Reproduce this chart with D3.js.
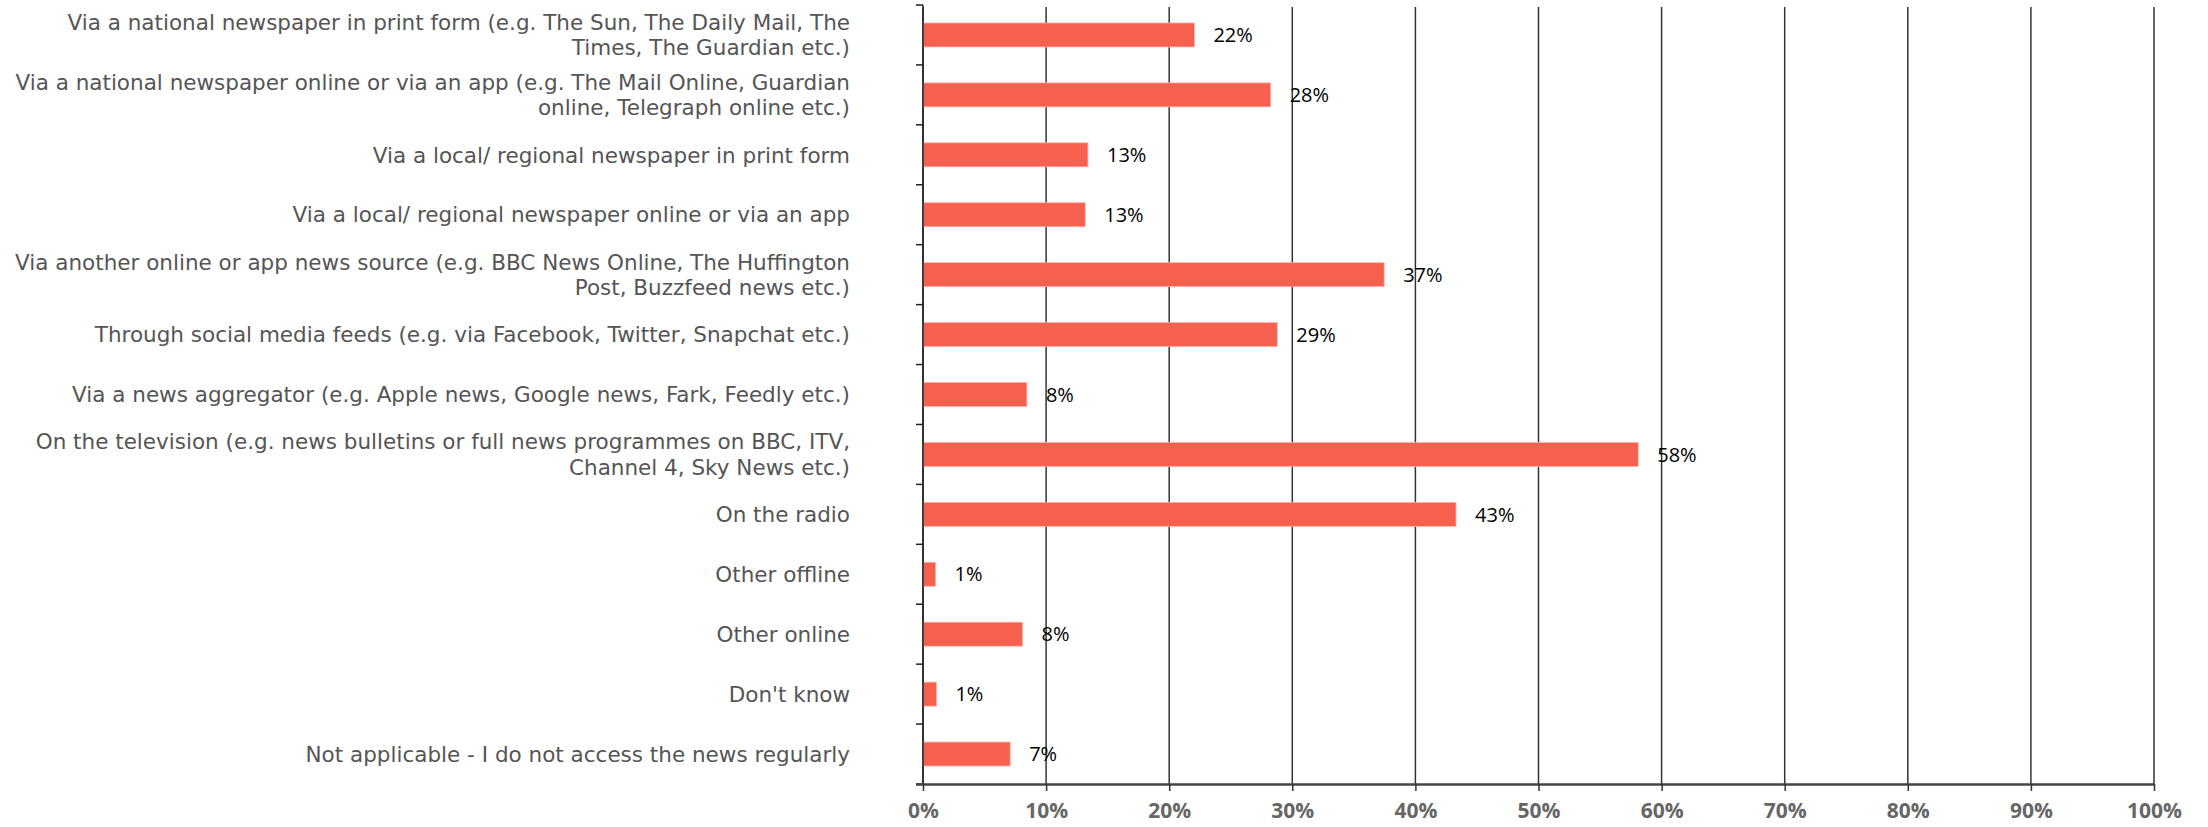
<!DOCTYPE html>
<html>
<head>
<meta charset="utf-8">
<script src="https://cdn.jsdelivr.net/npm/d3@7"></script>
<style>
  body { margin: 0; background: #fff; }
  svg text { font-family: "Open Sans", "Liberation Sans", sans-serif; }
</style>
</head>
<body>
<svg></svg>
<script>
const width = 2208;
const height = 827;
const margin = { top: 5, right: 54, bottom: 43, left: 923 };

// categories, "\n" marks where the reference wraps a label
const categories = [
  'Via a national newspaper in print form (e.g. The Sun, The Daily Mail, The\nTimes, The Guardian etc.)',
  'Via a national newspaper online or via an app (e.g. The Mail Online, Guardian\nonline, Telegraph online etc.)',
  'Via a local/ regional newspaper in print form',
  'Via a local/ regional newspaper online or via an app',
  'Via another online or app news source (e.g. BBC News Online, The Huffington\nPost, Buzzfeed news etc.)',
  'Through social media feeds (e.g. via Facebook, Twitter, Snapchat etc.)',
  'Via a news aggregator (e.g. Apple news, Google news, Fark, Feedly etc.)',
  'On the television (e.g. news bulletins or full news programmes on BBC, ITV,\nChannel 4, Sky News etc.)',
  'On the radio',
  'Other offline',
  'Other online',
  "Don't know",
  'Not applicable - I do not access the news regularly'
];

// share of respondents (fraction)
const values = [0.2205, 0.2824, 0.134, 0.1318, 0.3746, 0.2878, 0.0844, 0.581, 0.433, 0.0102, 0.0809, 0.0109, 0.0708];
// printed labels
const valueLabels = ['22%', '28%', '13%', '13%', '37%', '29%', '8%', '58%', '43%', '1%', '8%', '1%', '7%'];

const xTicks = [0, 0.1, 0.2, 0.3, 0.4, 0.5, 0.6, 0.7, 0.8, 0.9, 1];

const svg = d3.select('svg')
  .attr('width', width)
  .attr('height', height);

const x = d3.scaleLinear()
  .domain([0, 1])
  .range([margin.left, width - margin.right]);

const y = d3.scaleBand()
  .domain(d3.range(categories.length))
  .range([margin.top, height - margin.bottom])
  .paddingInner(0.6)
  .paddingOuter(0.3);

// band edges for the little ticks on the category axis
const yEdge = d3.scaleLinear()
  .domain([0, categories.length])
  .range([margin.top, height - margin.bottom]);

// vertical gridlines
svg.append('g')
  .selectAll('line')
  .data(xTicks)
  .enter()
  .append('line')
  .attr('x1', d => x(d))
  .attr('x2', d => x(d))
  .attr('y1', margin.top + 2)
  .attr('y2', height - margin.bottom)
  .attr('stroke', '#333')
  .attr('stroke-width', 1.5);

// bars
svg.append('g')
  .selectAll('rect')
  .data(values)
  .enter()
  .append('rect')
  .attr('x', x(0))
  .attr('y', (d, i) => y(i))
  .attr('width', d => x(d) - x(0))
  .attr('height', y.bandwidth())
  .attr('fill', '#f6614f')
  .attr('stroke', '#fab3aa')
  .attr('stroke-width', 0.8);

// value labels
svg.append('g')
  .selectAll('text')
  .data(values)
  .enter()
  .append('text')
  .attr('x', d => x(d) + 19)
  .attr('y', (d, i) => y(i) + y.bandwidth() / 2)
  .attr('dy', '0.36em')
  .attr('font-size', 20)
  .attr('fill', '#000')
  .text((d, i) => valueLabels[i]);

// category axis
const yAxis = svg.append('g');
yAxis.append('line')
  .attr('x1', x(0)).attr('x2', x(0))
  .attr('y1', yEdge(0)).attr('y2', yEdge(categories.length))
  .attr('stroke', '#222')
  .attr('stroke-width', 1.5);
yAxis.selectAll('.tk')
  .data(d3.range(categories.length + 1))
  .enter()
  .append('line')
  .attr('x1', x(0) - 7).attr('x2', x(0))
  .attr('y1', d => yEdge(d)).attr('y2', d => yEdge(d))
  .attr('stroke', '#222')
  .attr('stroke-width', 1.5);

const labelSize = 21.5;
const lineHeight = 25.5;
yAxis.selectAll('text')
  .data(categories)
  .enter()
  .append('text')
  .attr('x', 850)
  .attr('y', (d, i) => y(i) + y.bandwidth() / 2)
  .attr('text-anchor', 'end')
  .attr('font-size', labelSize)
  .style('font-family', '"DejaVu Sans", sans-serif')
  .attr('fill', '#555')
  .each(function (d) {
    const lines = d.split('\n');
    const t = d3.select(this);
    lines.forEach((line, k) => {
      t.append('tspan')
        .attr('x', 850)
        .attr('dy', k === 0 ? (0.36 * labelSize - (lines.length - 1) * lineHeight / 2) + 'px' : lineHeight + 'px')
        .text(line);
    });
  });

// value axis
const xAxis = d3.axisBottom(x)
  .tickValues(xTicks)
  .tickFormat(d3.format('.0%'))
  .tickSize(7)
  .tickSizeOuter(0)
  .tickPadding(12);

const gx = svg.append('g')
  .attr('transform', `translate(0,${height - margin.bottom})`)
  .call(xAxis);
gx.select('.domain')
  .attr('d', `M${x(0) - 7},0.5H${x(1)}`)
  .attr('stroke', '#444')
  .attr('stroke-width', 2.5);
gx.selectAll('.tick line')
  .attr('stroke', '#333')
  .attr('stroke-width', 1.5);
gx.selectAll('.tick text')
  .attr('font-size', 21)
  .attr('font-weight', 'bold')
  .attr('fill', '#666');
</script>
</body>
</html>
